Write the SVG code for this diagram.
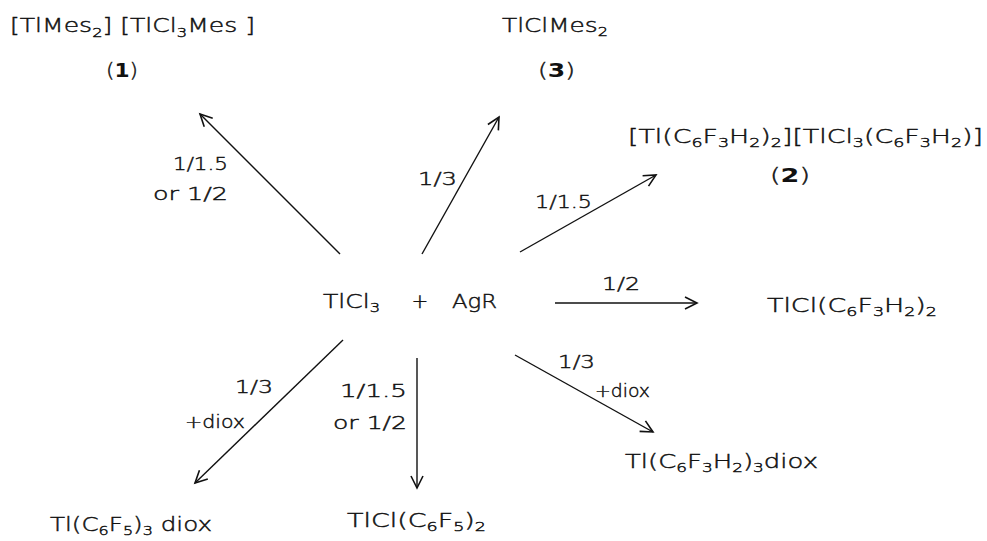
<svg xmlns="http://www.w3.org/2000/svg" width="987" height="541" viewBox="0 0 987 541">
<style>
text{font-family:"DejaVu Sans","Liberation Sans",sans-serif;fill:#111;font-weight:200;stroke:#111;stroke-width:0.45;}
.f{font-size:20px;}
.l{font-size:18px;}
.s{font-size:13px;}
.b{font-weight:bold;stroke-width:0;}
.c line{stroke:#111;stroke-width:1.4;fill:none;}
</style>
<defs>
<marker id="ah" markerUnits="userSpaceOnUse" markerWidth="16" markerHeight="16" refX="13" refY="7" orient="auto" viewBox="0 0 16 14">
<path d="M1,1 L13,7 L1,13" fill="none" stroke="#111" stroke-width="1.6" stroke-linejoin="miter"/>
</marker>
</defs>
<rect width="987" height="541" fill="#fff"/>
<g class="c" id="connectors">
<line x1="340" y1="254" x2="200" y2="114" marker-end="url(#ah)"/>
<line x1="422" y1="254" x2="499" y2="117" marker-end="url(#ah)"/>
<line x1="520" y1="252" x2="656" y2="175" marker-end="url(#ah)"/>
<line x1="555" y1="303" x2="697" y2="303" marker-end="url(#ah)"/>
<line x1="515" y1="355" x2="653" y2="432" marker-end="url(#ah)"/>
<line x1="417" y1="358" x2="417" y2="488" marker-end="url(#ah)"/>
<line x1="343" y1="340" x2="195" y2="483" marker-end="url(#ah)"/>
</g>
<g id="labels">
<text class="l" x="173" y="170" textLength="55" lengthAdjust="spacingAndGlyphs">1/1.5</text>
<text class="l" x="153" y="200" textLength="75" lengthAdjust="spacingAndGlyphs">or 1/2</text>
<text class="l" x="418" y="185" textLength="39" lengthAdjust="spacingAndGlyphs">1/3</text>
<text class="l" x="535" y="208" textLength="57" lengthAdjust="spacingAndGlyphs">1/1.5</text>
<text class="l" x="602" y="290" textLength="38" lengthAdjust="spacingAndGlyphs">1/2</text>
<text class="l" x="558" y="368" textLength="37" lengthAdjust="spacingAndGlyphs">1/3</text>
<text class="l" x="595" y="397" textLength="55" lengthAdjust="spacingAndGlyphs">+diox</text>
<text class="l" x="340" y="397" textLength="67" lengthAdjust="spacingAndGlyphs">1/1.5</text>
<text class="l" x="333" y="429" textLength="74" lengthAdjust="spacingAndGlyphs">or 1/2</text>
<text class="l" x="235" y="393" textLength="38" lengthAdjust="spacingAndGlyphs">1/3</text>
<text class="l" x="185" y="428" textLength="60" lengthAdjust="spacingAndGlyphs">+diox</text>
</g>
<g id="node-reactants">
<text class="f" x="323" y="308" textLength="57" lengthAdjust="spacingAndGlyphs">TlCl<tspan class="s" dy="4">3</tspan></text>
<text class="f" x="420" y="308" text-anchor="middle">+</text>
<text class="f" x="452" y="308" textLength="45" lengthAdjust="spacingAndGlyphs">AgR</text>
</g>
<g id="node-1">
<text class="f" x="10" y="32" textLength="245" lengthAdjust="spacingAndGlyphs">[TlMes<tspan class="s" dy="5">2</tspan><tspan dy="-5">] [TlCl</tspan><tspan class="s" dy="5">3</tspan><tspan dy="-5">Mes ]</tspan></text>
<text class="f" x="106" y="77" textLength="32" lengthAdjust="spacingAndGlyphs">(<tspan class="b">1</tspan>)</text>
</g>
<g id="node-3">
<text class="f" x="502" y="32" textLength="106" lengthAdjust="spacingAndGlyphs">TlClMes<tspan class="s" dy="4">2</tspan></text>
<text class="f" x="538" y="77" textLength="37" lengthAdjust="spacingAndGlyphs">(<tspan class="b">3</tspan>)</text>
</g>
<g id="node-2">
<text class="f" x="628" y="143" textLength="355" lengthAdjust="spacingAndGlyphs">[Tl(C<tspan class="s" dy="4">6</tspan><tspan dy="-4">F</tspan><tspan class="s" dy="4">3</tspan><tspan dy="-4">H</tspan><tspan class="s" dy="4">2</tspan><tspan dy="-4">)</tspan><tspan class="s" dy="4">2</tspan><tspan dy="-4">][TlCl</tspan><tspan class="s" dy="4">3</tspan><tspan dy="-4">(C</tspan><tspan class="s" dy="4">6</tspan><tspan dy="-4">F</tspan><tspan class="s" dy="4">3</tspan><tspan dy="-4">H</tspan><tspan class="s" dy="4">2</tspan><tspan dy="-4">)]</tspan></text>
<text class="f" x="770" y="182" textLength="40" lengthAdjust="spacingAndGlyphs">(<tspan class="b">2</tspan>)</text>
</g>
<g id="node-tlcl-c6f3h2">
<text class="f" x="767" y="312" textLength="170" lengthAdjust="spacingAndGlyphs">TlCl(C<tspan class="s" dy="4">6</tspan><tspan dy="-4">F</tspan><tspan class="s" dy="4">3</tspan><tspan dy="-4">H</tspan><tspan class="s" dy="4">2</tspan><tspan dy="-4">)</tspan><tspan class="s" dy="4">2</tspan></text>
</g>
<g id="node-tl-c6f3h2-diox">
<text class="f" x="625" y="468" textLength="193" lengthAdjust="spacingAndGlyphs">Tl(C<tspan class="s" dy="4">6</tspan><tspan dy="-4">F</tspan><tspan class="s" dy="4">3</tspan><tspan dy="-4">H</tspan><tspan class="s" dy="4">2</tspan><tspan dy="-4">)</tspan><tspan class="s" dy="4">3</tspan><tspan dy="-4">diox</tspan></text>
</g>
<g id="node-tlcl-c6f5">
<text class="f" x="347" y="527" textLength="139" lengthAdjust="spacingAndGlyphs">TlCl(C<tspan class="s" dy="4">6</tspan><tspan dy="-4">F</tspan><tspan class="s" dy="4">5</tspan><tspan dy="-4">)</tspan><tspan class="s" dy="4">2</tspan></text>
</g>
<g id="node-tl-c6f5-diox">
<text class="f" x="50" y="531" textLength="162" lengthAdjust="spacingAndGlyphs">Tl(C<tspan class="s" dy="4">6</tspan><tspan dy="-4">F</tspan><tspan class="s" dy="4">5</tspan><tspan dy="-4">)</tspan><tspan class="s" dy="4">3</tspan><tspan dy="-4"> diox</tspan></text>
</g>
</svg>
